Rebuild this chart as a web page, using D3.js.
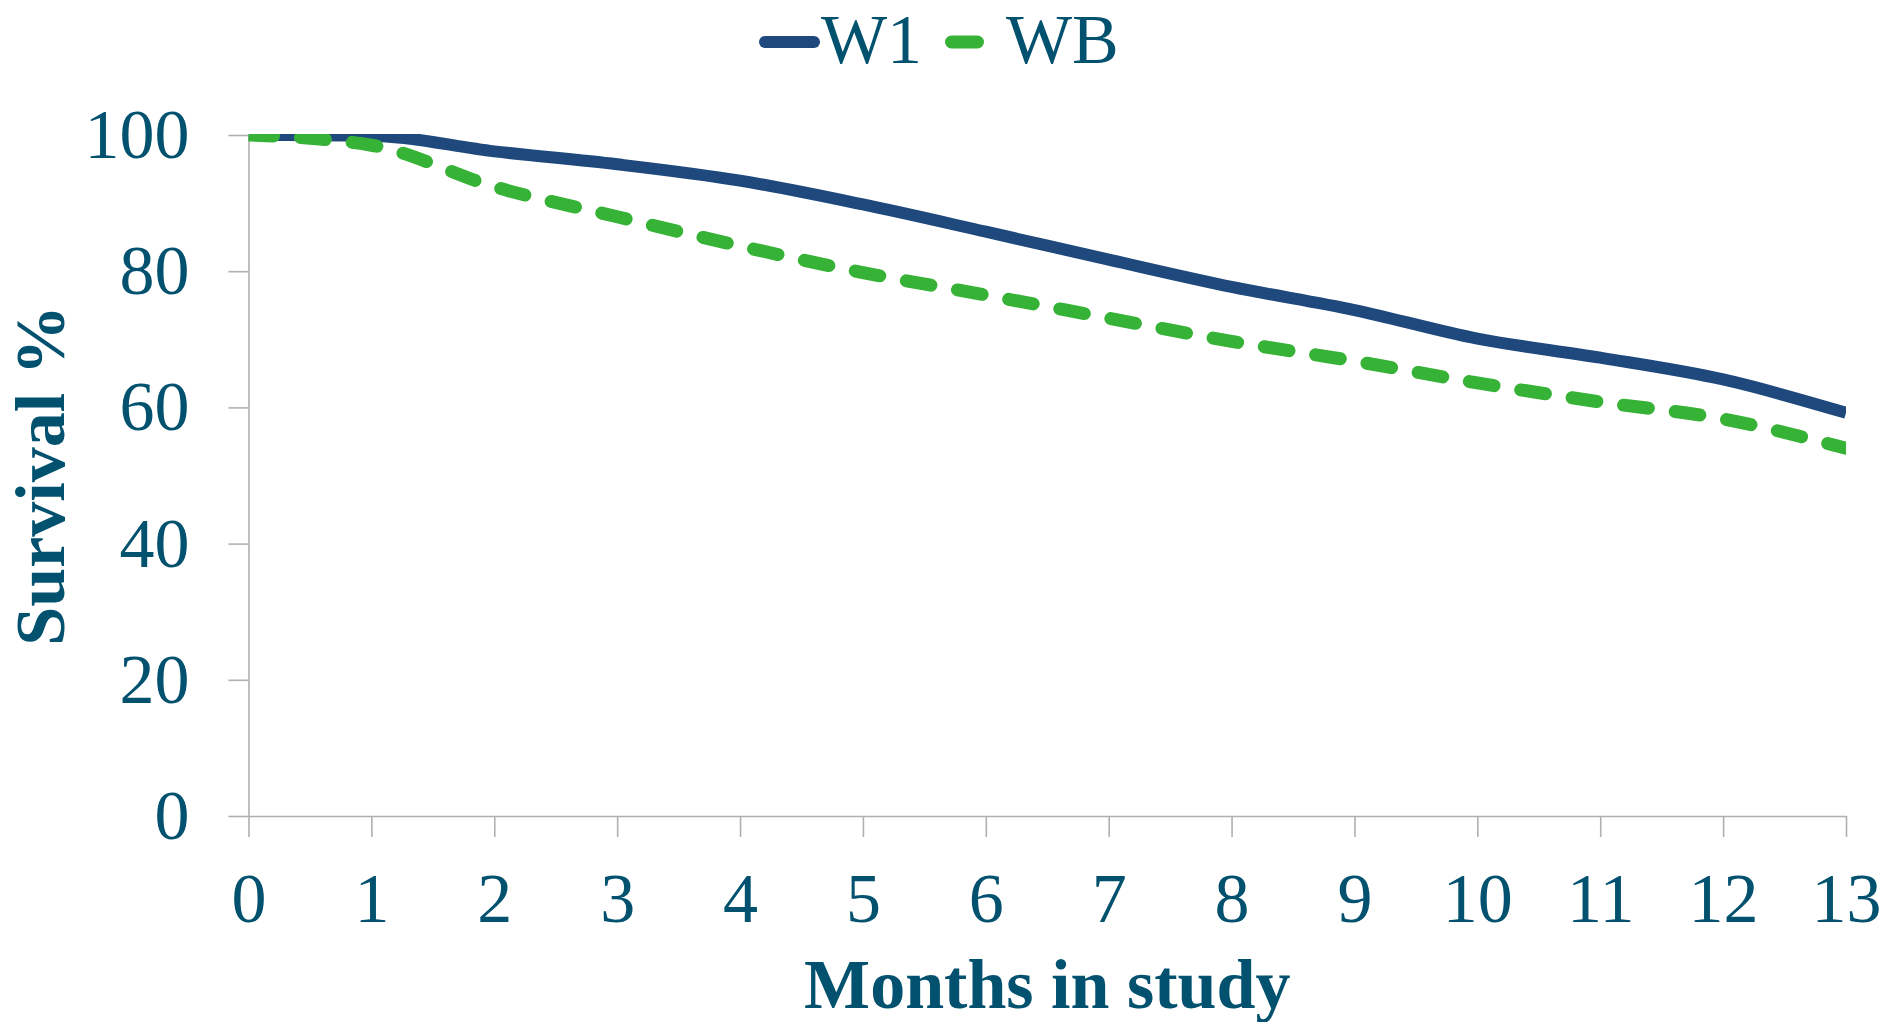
<!DOCTYPE html>
<html>
<head>
<meta charset="utf-8">
<script src="https://cdn.jsdelivr.net/npm/d3@7"></script>
<style>
  html, body { margin: 0; padding: 0; background: #ffffff; }
  svg { display: block; }
  text { font-family: "Liberation Serif", "Times New Roman", serif; fill: #02516f; }
</style>
</head>
<body>
<svg id="chart" width="1883" height="1022"></svg>
<script>
// Survival by month for the two groups
const months = [0, 1, 2, 3, 4, 5, 6, 7, 8, 9, 10, 11, 12, 13];
const w1Survival = [100, 99.9, 97.6, 95.7, 93.3, 89.8, 85.8, 81.7, 77.7, 74.3, 70.1, 67.3, 64.1, 59.2];
const wbSurvival = [100, 98.5, 92.4, 88.0, 83.7, 79.8, 76.5, 73.1, 69.7, 66.8, 63.6, 60.8, 58.3, 54.0];
const seriesNames = ["W1", "WB"];
const yTicks = [0, 20, 40, 60, 80, 100];
const xTicks = months;

const svg = d3.select("#chart");
const textColor = "#02516f";
const axisColor = "#b0b0b0";
const colors = { W1: "#1f497d", WB: "#36b336" };

const x = d3.scaleLinear().domain([0, 13]).range([248.5, 1846]);
const y = d3.scaleLinear().domain([0, 100]).range([816, 135]);

// Plot area clip so the thick strokes stay inside the axes
svg.append("defs").append("clipPath").attr("id", "plot-clip")
  .append("rect")
  .attr("x", x(0)).attr("y", y(100) - 1)
  .attr("width", x(13) - x(0)).attr("height", y(0) - y(100) + 1);

// Axes
const xAxis = d3.axisBottom(x).tickValues(xTicks).tickSize(21).tickSizeOuter(0).tickPadding(35).tickFormat(d3.format("d"));
const yAxis = d3.axisLeft(y).tickValues(yTicks).tickSize(20).tickSizeOuter(0).tickPadding(39).tickFormat(d3.format("d"));

const gx = svg.append("g").attr("transform", `translate(0,${y(0)})`).call(xAxis);
const gy = svg.append("g").attr("transform", `translate(${x(0)},0)`).call(yAxis);

[gx, gy].forEach(g => {
  g.select(".domain").attr("stroke", axisColor).attr("stroke-width", 1.6);
  g.selectAll(".tick line").attr("stroke", axisColor).attr("stroke-width", 1.6);
  g.selectAll(".tick text")
    .attr("fill", textColor)
    .style("font-family", '"Liberation Serif", "Times New Roman", serif')
    .style("font-size", "70px");
});

// Axis titles
svg.append("text")
  .attr("x", (x(0) + x(13)) / 2)
  .attr("y", 1008)
  .attr("text-anchor", "middle")
  .style("font-size", "70px")
  .style("font-weight", "bold")
  .text("Months in study");

svg.append("text")
  .attr("transform", `translate(64,${(y(0) + y(100)) / 2}) rotate(-90)`)
  .attr("text-anchor", "middle")
  .style("font-size", "70px")
  .style("font-weight", "bold")
  .text("Survival %");

// Survival curves
const line = d3.line()
  .x((d, i) => x(months[i]))
  .y(d => y(d))
  .curve(d3.curveMonotoneX);

const plot = svg.append("g").attr("clip-path", "url(#plot-clip)");

plot.append("path")
  .datum(w1Survival)
  .attr("d", line)
  .attr("fill", "none")
  .attr("stroke", colors.W1)
  .attr("stroke-width", 12)
  .attr("stroke-linejoin", "round");

plot.append("path")
  .datum(wbSurvival)
  .attr("d", line)
  .attr("fill", "none")
  .attr("stroke", colors.WB)
  .attr("stroke-width", 13)
  .attr("stroke-linecap", "round")
  .attr("stroke-dasharray", "25 27");

// Legend
const legend = svg.append("g");
legend.append("line")
  .attr("x1", 765).attr("x2", 814).attr("y1", 42).attr("y2", 42)
  .attr("stroke", colors.W1).attr("stroke-width", 12).attr("stroke-linecap", "round");
legend.append("text")
  .attr("x", 821).attr("y", 63)
  .style("font-size", "70px")
  .text(seriesNames[0]);
legend.append("line")
  .attr("x1", 951.5).attr("x2", 977.5).attr("y1", 42).attr("y2", 42)
  .attr("stroke", colors.WB).attr("stroke-width", 13).attr("stroke-linecap", "round");
legend.append("text")
  .attr("x", 1006).attr("y", 63)
  .style("font-size", "70px")
  .text(seriesNames[1]);
</script>
</body>
</html>
